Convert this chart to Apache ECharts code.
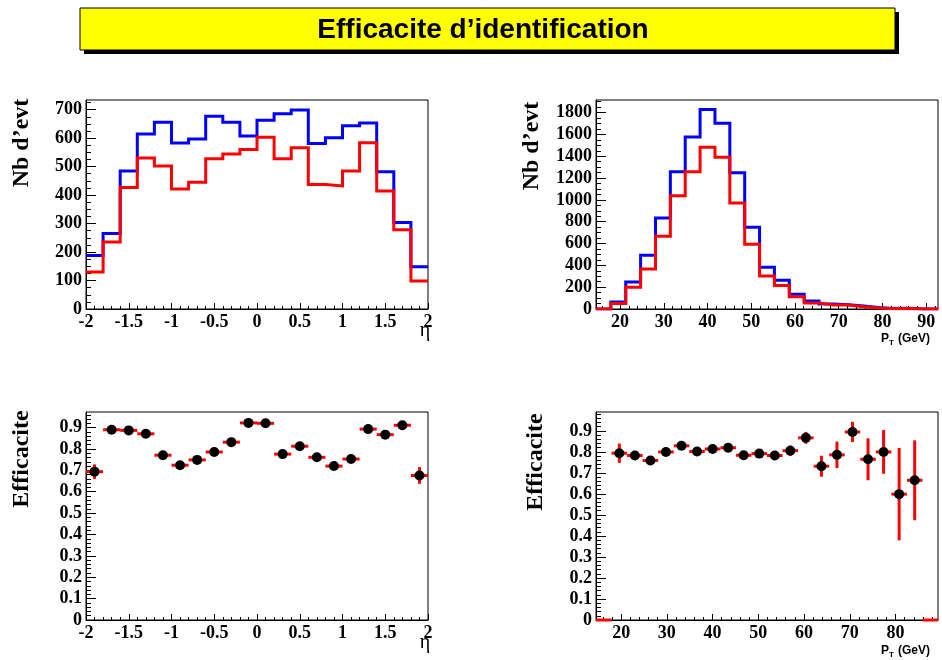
<!DOCTYPE html>
<html><head><meta charset="utf-8">
<script src="https://cdn.jsdelivr.net/npm/echarts@6/dist/echarts.min.js"></script>
<style>html,body{margin:0;padding:0;background:#fff}#c{width:942px;height:660px}</style>
</head><body><div id="c"></div><script>
// ---------- data ----------
const etaBinLow = [-2.0,-1.8,-1.6,-1.4,-1.2,-1.0,-0.8,-0.6,-0.4,-0.2,0.0,0.2,0.4,0.6,0.8,1.0,1.2,1.4,1.6,1.8];
const etaBinWidth = 0.2;
const nbEtaAll = [188,265,485,615,656,583,597,677,656,608,663,686,699,581,601,644,653,482,304,148];
const nbEtaId  = [130,235,427,530,502,421,445,528,544,560,603,528,566,437,432,485,584,414,278,98];
const effEta    = [0.694,0.890,0.887,0.871,0.771,0.724,0.749,0.786,0.832,0.922,0.920,0.776,0.813,0.761,0.720,0.753,0.893,0.867,0.911,0.676];
const effEtaErr = [0.034,0.019,0.015,0.014,0.017,0.019,0.018,0.016,0.015,0.011,0.011,0.016,0.015,0.018,0.018,0.017,0.012,0.016,0.016,0.039];

const ptBinLow = [14.5,17.9,21.3,24.7,28.1,31.5,34.9,38.3,41.7,45.1,48.5,51.9,55.3,58.7,62.1,65.5,68.9,72.3,75.7,79.1,82.5,85.9,89.3];
const ptBinWidth = 3.4;
const nbPtAll = [0,64,248,492,834,1259,1577,1828,1702,1250,749,382,263,135,73,46,40,27,13,5,6,1,1];
const nbPtId  = [0,51,199,367,666,1039,1259,1482,1391,972,593,303,215,113,55,37,36,21,10,3,4,0,0];
const effPt    = [0,0.794,0.783,0.759,0.800,0.829,0.802,0.814,0.820,0.784,0.792,0.783,0.806,0.867,0.732,0.786,0.895,0.765,0.800,0.599,0.665,0];
const effPtErr = [0,0.046,0.022,0.015,0.013,0.012,0.012,0.011,0.012,0.013,0.016,0.022,0.025,0.028,0.050,0.063,0.048,0.100,0.104,0.220,0.190,0];

const etaTickLabels = [-2,-1.5,-1,-0.5,0,0.5,1,1.5,2];
const ptTickLabels = [20,30,40,50,60,70,80,90];
const ptEffTickLabels = [20,30,40,50,60,70,80];
const nbEtaTickLabels = [0,100,200,300,400,500,600,700];
const nbPtTickLabels = [0,200,400,600,800,1000,1200,1400,1600,1800];
const effTickLabels = [0,0.1,0.2,0.3,0.4,0.5,0.6,0.7,0.8,0.9];

// ---------- helpers ----------
function minorValues(min, max, step, majors){
  const out=[]; const n=Math.round((max-min)/step);
  for(let i=0;i<=n;i++){const v=+(min+i*step).toFixed(6); if(!majors.some(m=>Math.abs(m-v)<1e-6)) out.push(v);}
  return out;
}
function stepData(low,w,vals){const d=[];vals.forEach((v,i)=>{d.push([low[i],v]);d.push([+(low[i]+w).toFixed(6),v]);});return d;}

const labelFont = {color:'#000',fontFamily:'Liberation Serif',fontWeight:'bold',fontSize:18};
function axisPair(dim, grid, min, max, majors, minors, majLen, minLen){
  const pos = dim==='x'?'bottom':'left';
  const major = {type:'value',gridIndex:grid,min,max,position:pos,
    axisLine:{show:true,onZero:false,lineStyle:{color:'#000',width:1}},
    axisTick:{show:true,inside:true,length:majLen,customValues:majors,lineStyle:{color:'#000',width:1}},
    axisLabel:Object.assign({show:true,customValues:majors,margin:dim==='x'?4:4,formatter:v=>String(v)},labelFont),
    splitLine:{show:false},minorTick:{show:false}};
  const minor = {type:'value',gridIndex:grid,min,max,position:pos,
    axisLine:{show:false,onZero:false},
    axisTick:{show:true,inside:true,length:minLen,customValues:minors,lineStyle:{color:'#000',width:1}},
    axisLabel:{show:false},splitLine:{show:false}};
  return [major,minor];
}

const grids = [
  {left:86,top:100,width:342,height:209},
  {left:596,top:100,width:342,height:209},
  {left:86,top:412,width:342,height:208},
  {left:596,top:412,width:342,height:208}
].map(g=>Object.assign(g,{show:true,borderColor:'#000',borderWidth:1,backgroundColor:'rgba(0,0,0,0)'}));

const xAxes = [].concat(
  axisPair('x',0,-2,2,etaTickLabels,minorValues(-2,2,0.1,etaTickLabels),6,3),
  axisPair('x',1,14.5,92.7,ptTickLabels,minorValues(16,92,2,ptTickLabels),6,3),
  axisPair('x',2,-2,2,etaTickLabels,minorValues(-2,2,0.1,etaTickLabels),6,3),
  axisPair('x',3,14.5,89.3,ptEffTickLabels,minorValues(16,88,2,ptEffTickLabels),6,3)
);
const yAxes = [].concat(
  axisPair('y',0,0,734,nbEtaTickLabels,minorValues(0,725,25,nbEtaTickLabels),10,5),
  axisPair('y',1,0,1916,nbPtTickLabels,minorValues(0,1900,50,nbPtTickLabels),10,5),
  axisPair('y',2,0,0.973,effTickLabels,minorValues(0,0.96,0.02,effTickLabels),10,5),
  axisPair('y',3,0,0.99,effTickLabels,minorValues(0,0.98,0.02,effTickLabels),10,5)
);

function histSeries(ax, low, w, vals, color){
  return {type:'line',xAxisIndex:ax,yAxisIndex:ax,data:stepData(low,w,vals),symbol:'none',
    lineStyle:{color,width:3,join:'miter'},itemStyle:{color},clip:true,silent:true,animation:false};
}
function errSeries(ax, low, w, vals, errs){
  const data = vals.map((v,i)=>[low[i]+w/2, v, errs[i], w]);
  return {type:'custom',xAxisIndex:ax,yAxisIndex:ax,data,animation:false,silent:true,z:2,
    renderItem:function(params,api){
      const c=api.value(0),v=api.value(1),e=api.value(2),bw=api.value(3);
      const a=api.coord([c-bw/2,v]),b=api.coord([c+bw/2,v]);
      const t=api.coord([c,v+e]),d=api.coord([c,v-e]);
      const st={stroke:'#ff0000',lineWidth:3};
      return {type:'group',children:[
        {type:'line',shape:{x1:a[0],y1:a[1],x2:b[0],y2:b[1]},style:st},
        {type:'line',shape:{x1:t[0],y1:t[1],x2:d[0],y2:d[1]},style:st}
      ]};
    }};
}
function pointSeries(ax, low, w, vals){
  const data=[]; vals.forEach((v,i)=>{ if(v>0) data.push([low[i]+w/2,v]); });
  return {type:'scatter',xAxisIndex:ax,yAxisIndex:ax,data,symbol:'circle',symbolSize:10,z:5,
    itemStyle:{color:'#000',borderWidth:0,opacity:1},animation:false,silent:true};
}

const series = [
  histSeries(0, etaBinLow, etaBinWidth, nbEtaAll, '#0000ff'),
  histSeries(0, etaBinLow, etaBinWidth, nbEtaId, '#ff0000'),
  histSeries(2, ptBinLow, ptBinWidth, nbPtAll, '#0000ff'),
  histSeries(2, ptBinLow, ptBinWidth, nbPtId, '#ff0000'),
  errSeries(4, etaBinLow, etaBinWidth, effEta, effEtaErr),
  pointSeries(4, etaBinLow, etaBinWidth, effEta),
  errSeries(6, ptBinLow, ptBinWidth, effPt, effPtErr),
  pointSeries(6, ptBinLow, ptBinWidth, effPt)
];

const serif24 = 'bold 24px "Liberation Serif"';
function vtitle(x,y,t){return {type:'text',x,y,rotation:Math.PI/2,style:{text:t,font:serif24,fill:'#000',align:'center',verticalAlign:'middle'}};}
function ptTitle(y){
  return [
    {type:'text',x:881,y:y,style:{text:'P',font:'bold 12px "Liberation Sans"',fill:'#000',align:'left',verticalAlign:'middle'}},
    {type:'text',x:889,y:y+4,style:{text:'T',font:'bold 8px "Liberation Sans"',fill:'#000',align:'left',verticalAlign:'middle'}},
    {type:'text',x:898,y:y,style:{text:'(GeV)',font:'bold 12px "Liberation Sans"',fill:'#000',align:'left',verticalAlign:'middle'}}
  ];
}
const graphic = [
  {type:'rect',shape:{x:84,y:12,width:815,height:42},style:{fill:'#000'}},
  {type:'rect',shape:{x:80,y:8,width:815,height:42},style:{fill:'#ffff00',stroke:'#000',lineWidth:1}},
  {type:'text',x:483,y:30,style:{text:'Efficacite d’identification',font:'bold 28px "Liberation Sans"',fill:'#000',align:'center',verticalAlign:'middle'}},
  vtitle(22,143,'Nb d’evt'),
  vtitle(532,146,'Nb d’evt'),
  vtitle(22,459,'Efficacite'),
  vtitle(536,462,'Efficacite'),
  {type:'text',x:425,y:331,style:{text:'η',font:'20px "Liberation Serif"',fill:'#000',align:'center',verticalAlign:'middle'}},
  {type:'text',x:425,y:643,style:{text:'η',font:'20px "Liberation Serif"',fill:'#000',align:'center',verticalAlign:'middle'}}
].concat(ptTitle(339), ptTitle(651));

const chart = echarts.init(document.getElementById('c'),null,{renderer:'canvas'});
chart.setOption({animation:false,backgroundColor:'#fff',grid:grids,xAxis:xAxes,yAxis:yAxes,series,graphic});
</script></body></html>
